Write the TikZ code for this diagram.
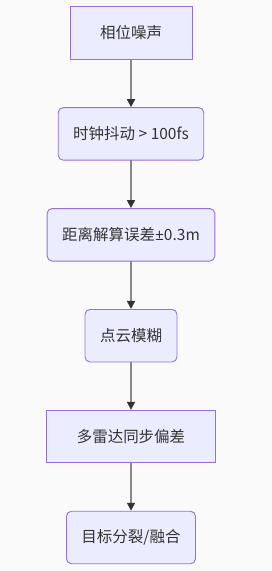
\documentclass[tikz,border=0pt]{standalone}
\usepackage{fontspec}
\setmainfont{Noto Sans CJK SC}
\newfontfamily\pmfont{Noto Sans}
\usetikzlibrary{
    positioning,
    arrows.meta
}
\definecolor{NodeFill}{RGB}{236,236,255}
\definecolor{NodeBorder}{RGB}{147,112,219}
\definecolor{TextGray}{RGB}{51,51,51}
\definecolor{LinkGray}{RGB}{136,136,136}
\definecolor{HeadGray}{RGB}{51,51,51}
\definecolor{PageBack}{RGB}{250,250,250}

\begin{document}
\begin{tikzpicture}[
    node distance=48.4pt,
    box/.style={rectangle, draw=NodeBorder, fill=NodeFill, line width=0.9pt, text=TextGray, font=\fontsize{15.5pt}{18pt}\selectfont, minimum height=52.5pt, inner xsep=30pt, inner ysep=0pt, outer sep=0pt},
    rbox/.style={box, rounded corners=5pt, inner xsep=15pt},
    flow/.style={draw=LinkGray, line width=1.6pt, -{Triangle[length=8pt, width=8pt, color=HeadGray]}, shorten >=0.5pt},
]
% background and margins
\fill[PageBack] (0,0) rectangle (272pt,-571pt);
\useasboundingbox (0,0) rectangle (272pt,-571pt);

\node[box] (noise) at (131pt,-33pt) {相位噪声};
\node[rbox, below=of noise] (jitter) {时钟抖动 > 100fs};
\node[rbox, below=of jitter] (range) {距离解算误差{\pmfont ±}0.3m};
\node[rbox, below=of range] (cloud) {点云模糊};
\node[box, below=of cloud] (sync) {多雷达同步偏差};
\node[rbox, below=of sync] (target) {目标分裂/融合};

% links
\draw[flow] (noise.south) -- (jitter.north);
\draw[flow] (jitter.south) -- (range.north);
\draw[flow] (range.south) -- (cloud.north);
\draw[flow] (cloud.south) -- (sync.north);
\draw[flow] (sync.south) -- (target.north);
\end{tikzpicture}
\end{document}
